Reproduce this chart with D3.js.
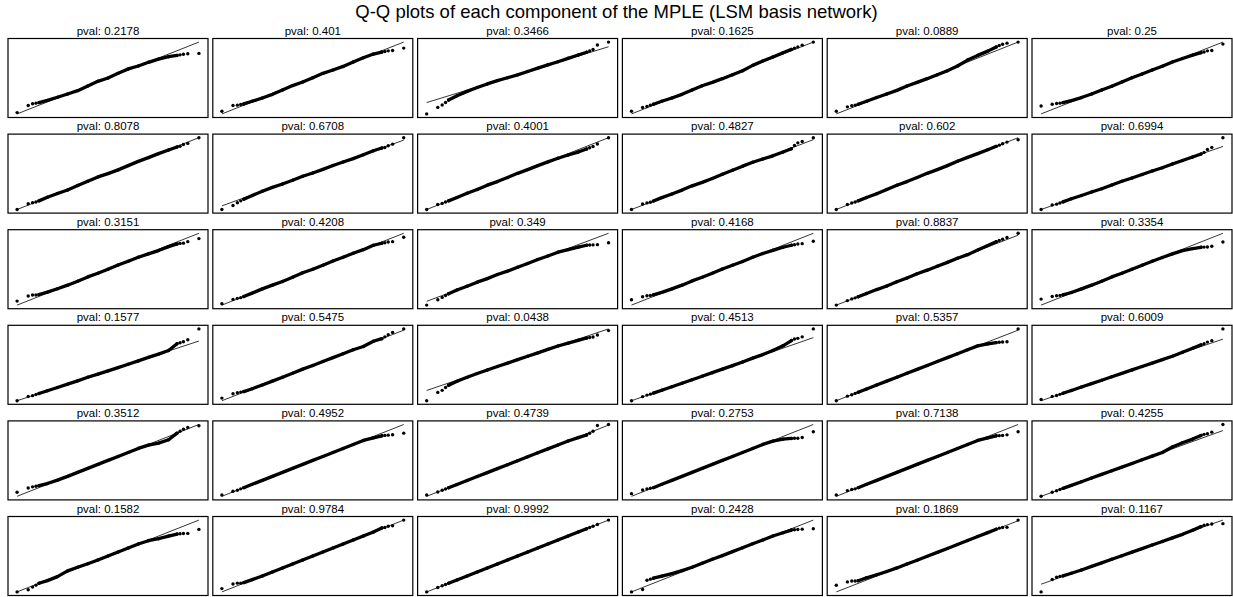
<!DOCTYPE html>
<html>
<head>
<meta charset="utf-8">
<script src="https://cdn.jsdelivr.net/npm/d3@7"></script>
<style>
  html, body { margin: 0; padding: 0; background: #fff; }
  svg { display: block; }
  text { font-family: "Liberation Sans", Arial, Helvetica, sans-serif; fill: #000; }
</style>
</head>
<body>
<svg id="chart" width="1233" height="597"></svg>
<script>
// Q-Q plots, one per MPLE component, 6 x 6 grid.
const chartTitle = "Q-Q plots of each component of the MPLE (LSM basis network)";

const pvalLabels = [
  "0.2178", "0.401", "0.3466", "0.1625", "0.0889", "0.25",
  "0.8078", "0.6708", "0.4001", "0.4827", "0.602", "0.6994",
  "0.3151", "0.4208", "0.349", "0.4168", "0.8837", "0.3354",
  "0.1577", "0.5475", "0.0438", "0.4513", "0.5357", "0.6009",
  "0.3512", "0.4952", "0.4739", "0.2753", "0.7138", "0.4255",
  "0.1582", "0.9784", "0.9992", "0.2428", "0.1869", "0.1167"
];

// theoretical normal quantiles at which the ordered samples are shown
const theoQ = [-2.70, -2.37, -2.24, -2.14, -2.05, -1.80, -1.50, -1.20, -0.90, -0.60, -0.30, 0.00,
               0.30, 0.60, 0.90, 1.20, 1.50, 1.80, 2.05, 2.14, 2.24, 2.37, 2.70];

// fitted reference line (standardised units)
const refSlope = 1;
const refIntercept = 0;

// ordered sample quantiles, one array per component, grouped by grid row
const row1 = [
  [-2.60, -2.07, -1.94, -1.89, -1.85, -1.68, -1.45, -1.20, -0.95, -0.60, -0.25, 0.00, 0.35, 0.68, 0.90, 1.18, 1.42, 1.60, 1.70, 1.74, 1.79, 1.82, 1.85],
  [-2.50, -2.07, -2.04, -1.99, -1.95, -1.75, -1.50, -1.23, -0.90, -0.57, -0.30, 0.02, 0.35, 0.60, 0.87, 1.20, 1.52, 1.80, 1.95, 1.99, 2.04, 2.07, 2.25],
  [-3.80, -3.17, -2.94, -2.69, -2.45, -2.05, -1.62, -1.25, -0.90, -0.58, -0.30, -0.02, 0.30, 0.63, 0.95, 1.25, 1.58, 1.90, 2.17, 2.29, 2.44, 2.87, 3.15],
  [-2.50, -2.22, -2.14, -2.04, -1.97, -1.75, -1.50, -1.23, -0.90, -0.58, -0.33, -0.05, 0.25, 0.55, 0.95, 1.28, 1.58, 1.90, 2.15, 2.24, 2.34, 2.47, 2.70],
  [-2.50, -2.17, -2.09, -2.04, -1.97, -1.75, -1.47, -1.20, -0.93, -0.60, -0.33, -0.05, 0.25, 0.55, 0.90, 1.35, 1.70, 2.02, 2.33, 2.44, 2.54, 2.62, 2.70],
  [-2.10, -1.97, -1.92, -1.89, -1.85, -1.70, -1.47, -1.20, -0.90, -0.62, -0.30, 0.02, 0.30, 0.60, 0.88, 1.20, 1.47, 1.72, 1.90, 1.96, 2.04, 2.07, 2.55]
];
const row2 = [
  [-2.70, -2.27, -2.19, -2.14, -2.05, -1.78, -1.50, -1.23, -0.90, -0.57, -0.25, 0.00, 0.28, 0.60, 0.92, 1.20, 1.50, 1.78, 2.00, 2.06, 2.19, 2.27, 2.70],
  [-3.00, -2.67, -2.44, -2.29, -2.15, -1.85, -1.50, -1.18, -0.90, -0.60, -0.27, 0.00, 0.30, 0.62, 0.90, 1.18, 1.50, 1.83, 2.05, 2.09, 2.24, 2.37, 2.90],
  [-2.70, -2.32, -2.24, -2.14, -2.05, -1.80, -1.48, -1.20, -0.87, -0.60, -0.30, 0.02, 0.30, 0.60, 0.88, 1.15, 1.40, 1.62, 1.85, 1.94, 2.04, 2.22, 2.70],
  [-2.70, -2.27, -2.19, -2.14, -2.05, -1.78, -1.50, -1.20, -0.87, -0.60, -0.30, 0.02, 0.33, 0.65, 0.95, 1.20, 1.45, 1.75, 2.00, 2.25, 2.45, 2.55, 2.85],
  [-2.70, -2.32, -2.21, -2.14, -2.05, -1.80, -1.52, -1.20, -0.88, -0.60, -0.30, 0.02, 0.30, 0.60, 0.93, 1.22, 1.50, 1.80, 2.05, 2.14, 2.24, 2.37, 2.55],
  [-2.70, -2.32, -2.24, -2.14, -2.05, -1.78, -1.50, -1.20, -0.92, -0.60, -0.28, 0.00, 0.30, 0.60, 0.88, 1.20, 1.50, 1.80, 2.05, 2.19, 2.44, 2.62, 3.45]
];
const row3 = [
  [-2.40, -2.02, -1.94, -1.94, -1.90, -1.72, -1.47, -1.20, -0.90, -0.58, -0.30, 0.00, 0.32, 0.60, 0.90, 1.15, 1.40, 1.70, 1.90, 1.94, 1.96, 2.07, 2.30],
  [-2.60, -2.27, -2.19, -2.14, -2.05, -1.80, -1.48, -1.20, -0.92, -0.60, -0.27, 0.00, 0.30, 0.62, 0.90, 1.20, 1.47, 1.80, 1.95, 1.99, 2.04, 2.07, 2.40],
  [-3.00, -2.57, -2.39, -2.24, -2.10, -1.80, -1.50, -1.18, -0.90, -0.57, -0.30, 0.00, 0.30, 0.62, 0.90, 1.20, 1.40, 1.60, 1.75, 1.77, 1.78, 1.80, 1.95],
  [-2.30, -2.07, -2.00, -1.97, -1.93, -1.74, -1.48, -1.20, -0.88, -0.60, -0.30, 0.02, 0.30, 0.58, 0.90, 1.18, 1.42, 1.65, 1.80, 1.84, 1.89, 1.92, 2.10],
  [-2.70, -2.35, -2.22, -2.14, -2.05, -1.80, -1.50, -1.22, -0.90, -0.60, -0.28, 0.00, 0.30, 0.60, 0.92, 1.20, 1.55, 1.90, 2.20, 2.29, 2.39, 2.52, 2.85],
  [-2.25, -2.05, -2.00, -1.97, -1.93, -1.75, -1.48, -1.20, -0.90, -0.58, -0.30, 0.00, 0.30, 0.60, 0.88, 1.15, 1.40, 1.55, 1.65, 1.66, 1.67, 1.72, 2.05]
];
const row4 = [
  [-2.70, -2.32, -2.24, -2.14, -2.05, -1.80, -1.50, -1.20, -0.90, -0.58, -0.30, 0.00, 0.30, 0.60, 0.90, 1.22, 1.52, 1.85, 2.45, 2.54, 2.64, 2.82, 3.80],
  [-2.50, -2.17, -2.09, -2.04, -2.00, -1.78, -1.50, -1.20, -0.90, -0.60, -0.28, 0.00, 0.30, 0.60, 0.90, 1.20, 1.45, 1.85, 2.05, 2.19, 2.36, 2.52, 2.80],
  [-3.60, -2.87, -2.69, -2.44, -2.25, -1.90, -1.55, -1.22, -0.90, -0.60, -0.30, 0.00, 0.30, 0.60, 0.90, 1.20, 1.45, 1.70, 1.90, 1.94, 1.99, 2.17, 2.55],
  [-2.70, -2.35, -2.22, -2.14, -2.05, -1.80, -1.50, -1.20, -0.90, -0.60, -0.30, 0.00, 0.30, 0.62, 0.95, 1.25, 1.60, 2.00, 2.45, 2.59, 2.64, 2.77, 3.45],
  [-2.70, -2.35, -2.24, -2.14, -2.05, -1.80, -1.50, -1.20, -0.90, -0.60, -0.30, 0.00, 0.30, 0.60, 0.90, 1.20, 1.50, 1.65, 1.75, 1.78, 1.80, 1.82, 2.80],
  [-2.60, -2.32, -2.24, -2.14, -2.05, -1.80, -1.50, -1.20, -0.90, -0.60, -0.30, 0.00, 0.30, 0.60, 0.90, 1.20, 1.55, 1.90, 2.20, 2.29, 2.44, 2.57, 3.60]
];
const row5 = [
  [-2.40, -2.07, -1.99, -1.94, -1.90, -1.74, -1.48, -1.20, -0.90, -0.60, -0.30, 0.00, 0.30, 0.60, 0.90, 1.15, 1.30, 1.55, 2.05, 2.19, 2.34, 2.47, 2.60],
  [-2.60, -2.32, -2.24, -2.14, -2.05, -1.80, -1.50, -1.20, -0.90, -0.60, -0.30, 0.00, 0.30, 0.60, 0.90, 1.20, 1.50, 1.70, 1.85, 1.88, 1.90, 1.93, 2.05],
  [-2.60, -2.37, -2.24, -2.14, -2.05, -1.80, -1.50, -1.20, -0.90, -0.60, -0.30, 0.00, 0.30, 0.60, 0.90, 1.20, 1.50, 1.75, 1.95, 2.09, 2.24, 2.67, 2.75],
  [-2.50, -2.22, -2.14, -2.09, -2.05, -1.80, -1.50, -1.20, -0.90, -0.60, -0.30, 0.00, 0.30, 0.60, 0.90, 1.20, 1.45, 1.60, 1.65, 1.66, 1.67, 1.72, 2.15],
  [-2.60, -2.27, -2.19, -2.14, -2.05, -1.80, -1.50, -1.20, -0.90, -0.60, -0.30, 0.00, 0.30, 0.60, 0.90, 1.20, 1.50, 1.70, 1.85, 1.86, 1.87, 1.92, 2.15],
  [-2.70, -2.37, -2.24, -2.14, -2.05, -1.80, -1.50, -1.20, -0.90, -0.60, -0.30, 0.00, 0.30, 0.60, 0.90, 1.35, 1.70, 2.00, 2.30, 2.39, 2.44, 2.57, 3.20]
];
const row6 = [
  [-2.70, -2.54, -2.34, -2.19, -2.05, -1.85, -1.55, -1.12, -0.85, -0.58, -0.30, 0.00, 0.30, 0.60, 0.90, 1.15, 1.30, 1.50, 1.65, 1.67, 1.69, 1.70, 2.00],
  [-2.45, -2.10, -2.04, -2.04, -2.00, -1.78, -1.50, -1.20, -0.90, -0.60, -0.30, 0.00, 0.30, 0.60, 0.90, 1.20, 1.50, 1.80, 2.10, 2.14, 2.24, 2.27, 2.70],
  [-2.70, -2.37, -2.24, -2.14, -2.05, -1.80, -1.50, -1.20, -0.90, -0.60, -0.30, 0.00, 0.30, 0.60, 0.90, 1.20, 1.50, 1.80, 2.05, 2.14, 2.24, 2.37, 2.70],
  [-2.70, -2.52, -1.82, -1.74, -1.67, -1.52, -1.33, -1.10, -0.85, -0.55, -0.25, 0.03, 0.33, 0.62, 0.92, 1.20, 1.50, 1.75, 1.95, 1.97, 1.99, 2.02, 2.05],
  [-2.20, -1.94, -1.87, -1.87, -1.85, -1.63, -1.40, -1.15, -0.88, -0.58, -0.30, 0.00, 0.30, 0.60, 0.90, 1.20, 1.50, 1.80, 2.05, 2.14, 2.19, 2.20, 2.75],
  [-3.35, -2.31, -2.11, -2.04, -2.00, -1.78, -1.50, -1.20, -0.90, -0.60, -0.30, 0.00, 0.30, 0.60, 0.90, 1.20, 1.50, 1.85, 2.15, 2.26, 2.32, 2.37, 2.40]
];
const sampleRows = [row1, row2, row3, row4, row5, row6];

// ---- layout ----
const W = 1233, H = 597;
const nCols = 6;
const boxW = 200, boxH = 79;
const colStep = 204.8, rowStep = 95.6;
const left0 = 8, top0 = 38.5;
const bodyFrom = 4, bodyTo = 18;   // dense central run of points

const svg = d3.select("#chart");

svg.append("text")
  .attr("x", W / 2)
  .attr("y", 18)
  .attr("text-anchor", "middle")
  .style("font-size", "18.5px")
  .text(chartTitle);

const defs = svg.append("defs");

sampleRows.forEach((row, r) => {
  row.forEach((sample, c) => {
    const idx = r * nCols + c;
    const gx = left0 + c * colStep;
    const gy = top0 + r * rowStep;
    const pts = theoQ.map((q, i) => ({ x: q, y: sample[i] }));

    // reference line spans the theoretical range
    const xExt = d3.extent(theoQ);
    const lineEnds = xExt.map(x => ({ x, y: refIntercept + refSlope * x }));

    const yExt = d3.extent(pts.map(p => p.y).concat(lineEnds.map(p => p.y)));
    const xPad = (xExt[1] - xExt[0]) * 0.05;
    const yPad = (yExt[1] - yExt[0]) * 0.05;

    const x = d3.scaleLinear().domain([xExt[0] - xPad, xExt[1] + xPad]).range([0, boxW]);
    const y = d3.scaleLinear().domain([yExt[0] - yPad, yExt[1] + yPad]).range([boxH, 0]);

    const g = svg.append("g").attr("transform", `translate(${gx},${gy})`);

    defs.append("clipPath").attr("id", `clip${idx}`)
      .append("rect").attr("width", boxW).attr("height", boxH);

    g.append("text")
      .attr("x", boxW / 2)
      .attr("y", -4)
      .attr("text-anchor", "middle")
      .style("font-size", "11.5px")
      .text(`pval: ${pvalLabels[idx]}`);

    const plot = g.append("g").attr("clip-path", `url(#clip${idx})`);

    // dense run of points rendered as a thick trace
    plot.append("path")
      .datum(pts.slice(bodyFrom, bodyTo + 1))
      .attr("d", d3.line().x(d => x(d.x)).y(d => y(d.y)))
      .attr("fill", "none")
      .attr("stroke", "#000")
      .attr("stroke-width", 3.3)
      .attr("stroke-linejoin", "round")
      .attr("stroke-linecap", "round");

    plot.selectAll("circle")
      .data(pts)
      .join("circle")
      .attr("cx", d => x(d.x))
      .attr("cy", d => y(d.y))
      .attr("r", 1.7)
      .attr("fill", "#000");

    plot.append("path")
      .datum(lineEnds)
      .attr("d", d3.line().x(d => x(d.x)).y(d => y(d.y)))
      .attr("fill", "none")
      .attr("stroke", "#000")
      .attr("stroke-width", 0.8);

    g.append("rect")
      .attr("width", boxW)
      .attr("height", boxH)
      .attr("fill", "none")
      .attr("stroke", "#000")
      .attr("stroke-width", 1.2);
  });
});
</script>
</body>
</html>
